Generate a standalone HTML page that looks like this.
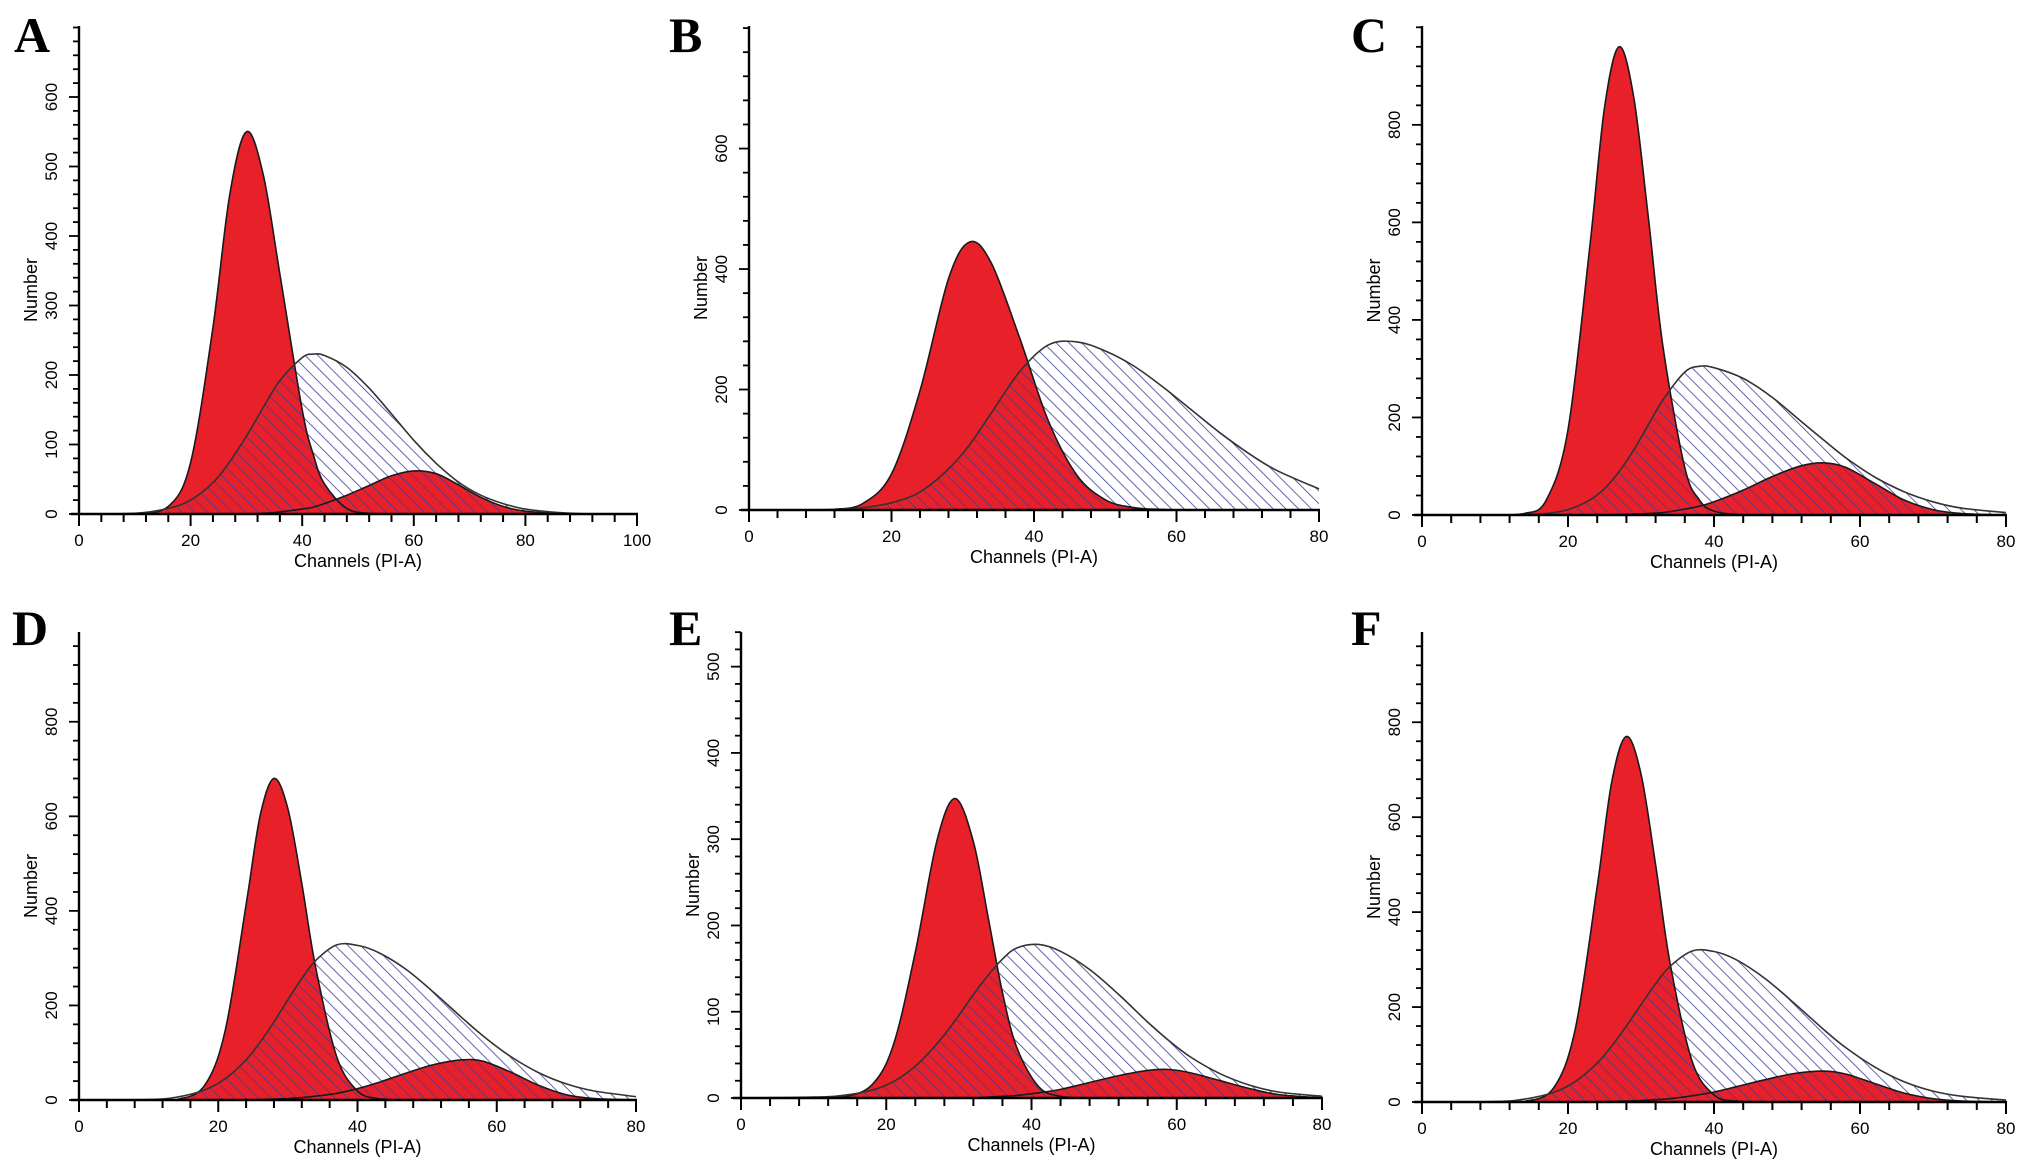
<!DOCTYPE html>
<html><head><meta charset="utf-8">
<style>
html,body{margin:0;padding:0;background:#fff;}
svg{display:block;}
text{font-family:"Liberation Sans",sans-serif;}
.lbl{font-family:"Liberation Serif",serif;font-weight:bold;font-size:50px;fill:#000;}
</style></head>
<body>
<svg id="fig" width="2031" height="1168" viewBox="0 0 2031 1168" xmlns="http://www.w3.org/2000/svg">
<defs>
<pattern id="hatch" patternUnits="userSpaceOnUse" width="9" height="9" patternTransform="rotate(-45)">
<line x1="0" y1="0" x2="0" y2="9" stroke="#3d3f98" stroke-width="1.6"/>
</pattern>
</defs>
</svg>
<script>
// ---- Data ----
const chA = [0,10,16,20,24,27,30,33,36,40,42,44,48,52,56,60,64,68,72,76,80,86,92,100];
const g1A = [0,0,11,74,268,459,550,489,345,150,85,43,8,1,0,0,0,0,0,0,0,0,0,0];
const sA  = [0,1,8,20,45,75,112,153,192,225,230,228,211,181,144,106,73,46,27,15,7,2,0,0];
const g2A = [0,0,0,0,0,0,0,1,3,7,10,15,27,41,55,62,58,42,24,11,4,1,0,0];

const chB = [0,8,12,16,20,24,28,31,34,38,42,46,50,54,58,62,66,70,74,80];
const g1B = [0,0,1,11,60,198,384,445,410,285,148,58,17,4,1,0,0,0,0,0];
const sB  = [0,0,1,4,12,30,68,109,161,230,274,279,264,239,205,167,129,95,66,35];
const g2B = [0,0,0,0,0,0,0,0,0,0,0,0,0,0,0,0,0,0,0,0];

const chC = [0,10,14,17,20,23,25,27,29,31,33,36,38,40,44,48,52,55,58,62,66,70,74,80];
const g1C = [0,0,3,30,175,552,835,960,857,611,346,97,31,8,0,0,0,0,0,0,0,0,0,0];
const sC  = [0,0,1,3,11,31,54,89,133,185,236,293,305,302,280,241,191,154,118,78,48,27,14,5];
const g2C = [0,0,0,0,0,0,0,1,2,3,5,12,18,27,51,79,101,107,98,65,31,11,3,0];

const chD = [0,10,14,18,21,24,26,28,30,32,34,37,40,43,47,51,55,58,62,66,70,74,80];
const g1D = [0,0,1,30,147,413,600,680,616,458,280,92,19,3,0,0,0,0,0,0,0,0,0];
const sD  = [0,1,6,21,45,85,122,165,212,257,295,328,327,312,276,227,174,136,92,58,34,19,7];
const g2D = [0,0,0,0,0,0,1,2,3,5,8,14,24,37,57,75,85,82,59,31,11,3,0];

const chE = [0,10,14,18,21,24,27,29.5,32,34,36,38,41,44,48,52,56,59,62,66,70,74,80];
const g1E = [0,0,1,15,62,169,299,347,297,211,122,58,13,2,0,0,0,0,0,0,0,0,0];
const sE  = [0,1,3,9,19,37,63,90,120,142,161,174,178,170,149,120,88,66,47,28,15,7,2];
const g2E = [0,0,0,0,0,0,0,0,0,1,2,3,6,10,18,26,32,33,29,20,11,4,0];

const chF = [0,10,14,18,21,24,26,28,30,32,34,37,40,43,47,51,55,58,62,66,70,74,80];
const g1F = [0,0,1,29,154,454,675,770,691,500,291,86,15,2,0,0,0,0,0,0,0,0,0];
const sF  = [0,1,6,20,43,82,118,160,205,249,286,318,317,300,260,208,153,115,74,43,23,12,4];
const g2F = [0,0,0,0,0,0,1,2,3,5,7,13,21,32,47,60,65,59,39,19,7,2,0];

const xTicksA = [0,20,40,60,80,100];
const xTicks80 = [0,20,40,60,80];
const yTicksA = [0,100,200,300,400,500,600];
const yTicksB = [200,400,600];
const yTicks0B = [0,200,400,600];
const yTicksC = [0,200,400,600,800];
const yTicksE = [0,100,200,300,400,500];

// ---- Layout ----
const panels = [
 {id:'a',label:'A',lx:14,ly:52,ox:79,xr:637,dmax:100,base:514,ppu:0.695,top:26,xt:xTicksA,yt:yTicksA,xminor:4,yminor:20,ymax:700,ch:chA,g1:g1A,s:sA,g2:g2A},
 {id:'b',label:'B',lx:669,ly:52,ox:749,xr:1319,dmax:80,base:510,ppu:0.6024,top:26,xt:xTicks80,yt:yTicks0B,xminor:4,yminor:40,ymax:800,ch:chB,g1:g1B,s:sB,g2:g2B},
 {id:'c',label:'C',lx:1351,ly:52,ox:1422,xr:2006,dmax:80,base:515,ppu:0.4877,top:26,xt:xTicks80,yt:yTicksC,xminor:4,yminor:40,ymax:1000,ch:chC,g1:g1C,s:sC,g2:g2C},
 {id:'d',label:'D',lx:12,ly:645,ox:79,xr:636,dmax:80,base:1100,ppu:0.4728,top:632,xt:xTicks80,yt:yTicksC,xminor:4,yminor:40,ymax:1000,ch:chD,g1:g1D,s:sD,g2:g2D},
 {id:'e',label:'E',lx:669,ly:645,ox:741,xr:1322,dmax:80,base:1098,ppu:0.8627,top:632,xt:xTicks80,yt:yTicksE,xminor:4,yminor:20,ymax:540,ch:chE,g1:g1E,s:sE,g2:g2E},
 {id:'f',label:'F',lx:1351,ly:645,ox:1422,xr:2006,dmax:80,base:1102,ppu:0.4747,top:632,xt:xTicks80,yt:yTicksC,xminor:4,yminor:40,ymax:1000,ch:chF,g1:g1F,s:sF,g2:g2F}
];

const NS='http://www.w3.org/2000/svg';
const svg=document.getElementById('fig');
function mk(tag,attrs,parent){const e=document.createElementNS(NS,tag);for(const k in attrs)e.setAttribute(k,attrs[k]);(parent||svg).appendChild(e);return e;}

function smoothPath(pts){
  let d='M'+pts[0][0].toFixed(1)+','+pts[0][1].toFixed(1);
  for(let i=0;i<pts.length-1;i++){
    const p0=pts[Math.max(0,i-1)],p1=pts[i],p2=pts[i+1],p3=pts[Math.min(pts.length-1,i+2)];
    let c1x=p1[0]+(p2[0]-p0[0])/6,c1y=p1[1]+(p2[1]-p0[1])/6;
    let c2x=p2[0]-(p3[0]-p1[0])/6,c2y=p2[1]-(p3[1]-p1[1])/6;
    const base=Math.max(p1[1],p2[1],p0[1],p3[1]);
    c1y=Math.min(c1y,base);c2y=Math.min(c2y,base);
    d+=' C'+c1x.toFixed(1)+','+c1y.toFixed(1)+' '+c2x.toFixed(1)+','+c2y.toFixed(1)+' '+p2[0].toFixed(1)+','+p2[1].toFixed(1);
  }
  return d;
}

panels.forEach(p=>{
  const g=mk('g',{});
  
  
  const xs=v=>p.ox+(v/p.dmax)*(p.xr-p.ox);
  const ys=v=>p.base-v*p.ppu;
  const pts=arr=>p.ch.map((c,i)=>[xs(c),ys(arr[i])]);
  const areaD=arr=>smoothPath(pts(arr))+' L'+xs(p.ch[p.ch.length-1])+','+p.base+' L'+xs(p.ch[0])+','+p.base+' Z';

  // fills
  const f1=mk('path',{d:areaD(p.g1),fill:'#e8202a',stroke:'none'},g);
  
  
  const f2=mk('path',{d:areaD(p.g2),fill:'#e8202a',stroke:'none'},g);
  
  
  const fs=mk('path',{d:areaD(p.s),fill:'url(#hatch)',stroke:'none'},g);
  
  
  // outlines
  [p.g1,p.g2,p.s].forEach((arr,k)=>{
    const o=mk('path',{d:smoothPath(pts(arr)),fill:'none',stroke:k==2?'#333':'#1a1a1a','stroke-width':1.6},g);
    
    
  });

  // axes
  const ax=mk('line',{x1:p.ox,y1:p.top,x2:p.ox,y2:p.base+1,stroke:'#000','stroke-width':2.4},g);
  
  
  const bx=mk('line',{x1:p.ox-8,y1:p.base,x2:p.xr+1,y2:p.base,stroke:'#000','stroke-width':2.4},g);
  
  
  for(let v=0;v<=p.dmax+0.01;v+=p.xminor){
    const major=(v%20===0);
    mk('line',{x1:xs(v),y1:p.base,x2:xs(v),y2:p.base+(major?12:8),stroke:'#000','stroke-width':2},g);
  }
  for(let v=0;v*p.ppu<=p.base-p.top;v+=p.yminor){
    const major=p.yt.includes(v);
    mk('line',{x1:p.ox,y1:ys(v),x2:p.ox-(major?10:6),y2:ys(v),stroke:'#000','stroke-width':1.8},g);
  }
  p.xt.forEach(v=>{
    const t=mk('text',{x:xs(v),y:p.base+32,'text-anchor':'middle','font-size':17},g);
    t.textContent=v;
    
    
  });
  p.yt.forEach(v=>{
    const y=ys(v);
    const t=mk('text',{x:p.ox-22,y:y,'text-anchor':'middle','font-size':17,transform:'rotate(-90 '+(p.ox-22)+' '+y+')'},g);
    t.textContent=v;
    
    
  });
  const xl=mk('text',{x:(p.ox+p.xr)/2,y:p.base+53,'text-anchor':'middle','font-size':18},g);
  xl.textContent='Channels (PI-A)';
  
  
  const ym=(p.top+p.base)/2+20;
  const yl=mk('text',{x:p.ox-42,y:ym,'text-anchor':'middle','font-size':18,transform:'rotate(-90 '+(p.ox-42)+' '+ym+')'},g);
  yl.textContent='Number';
  
  
  const L=mk('text',{x:p.lx,y:p.ly,class:'lbl'},g);
  L.textContent=p.label;
  
  
});
</script>
</body></html>
